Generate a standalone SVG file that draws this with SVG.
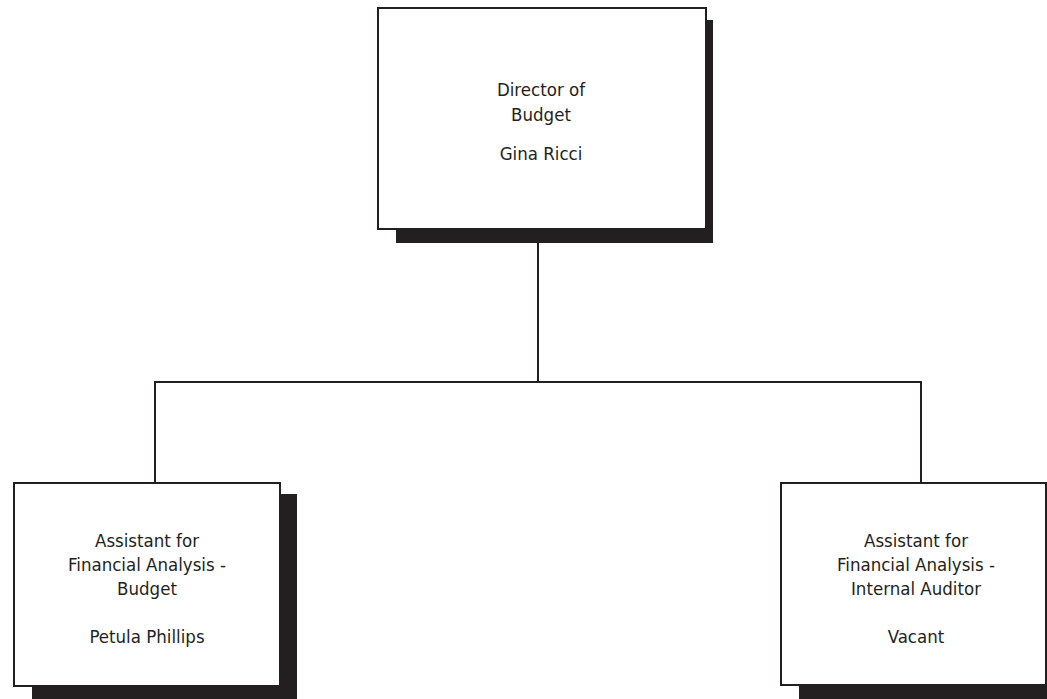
<svg xmlns="http://www.w3.org/2000/svg" width="1047" height="699" viewBox="0 0 1047 699">
<style>
.box{fill:#fff;stroke:#231f20;stroke-width:2}
.shadow{fill:#231f20}
.conn{stroke:#231f20;stroke-width:2;fill:none}
text{font-family:"Liberation Sans Narrow","DejaVu Sans Condensed",sans-serif;font-size:18.5px;fill:#231f20;text-anchor:middle}
</style>
<rect width="1047" height="699" fill="#fff"/>
<g id="connectors">
<line class="conn" x1="538" y1="243" x2="538" y2="382"/>
<polyline class="conn" points="155,483 155,382 921,382 921,483"/>
</g>
<g id="director">
<rect class="shadow" x="396" y="20" width="317" height="223"/>
<rect class="box" x="378" y="8" width="328" height="221"/>
<text x="541" y="96">Director of</text>
<text x="541" y="121">Budget</text>
<text x="541" y="160">Gina Ricci</text>
</g>
<g id="budget">
<rect class="shadow" x="32" y="494" width="265" height="205"/>
<rect class="box" x="14" y="483" width="266" height="203"/>
<text x="147" y="547">Assistant for</text>
<text x="147" y="571">Financial Analysis -</text>
<text x="147" y="595">Budget</text>
<text x="147" y="643">Petula Phillips</text>
</g>
<g id="auditor">
<rect class="shadow" x="799" y="494" width="265" height="205"/>
<rect class="box" x="781" y="483" width="265" height="202"/>
<text x="916" y="547">Assistant for</text>
<text x="916" y="571">Financial Analysis -</text>
<text x="916" y="595">Internal Auditor</text>
<text x="916" y="643">Vacant</text>
</g>
</svg>
